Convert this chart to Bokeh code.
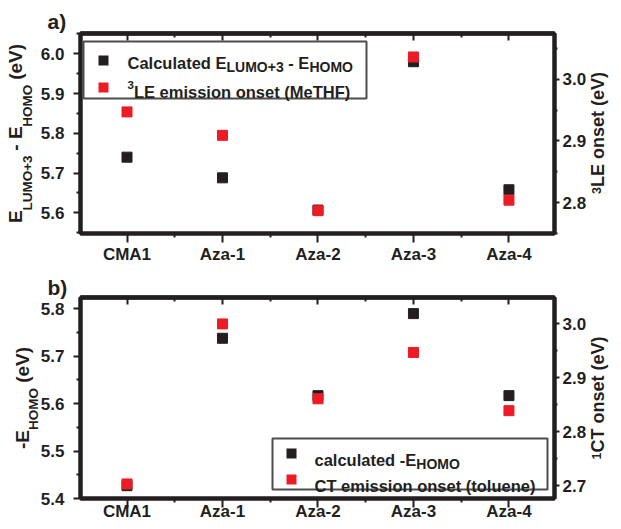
import math
from bokeh.plotting import figure
from bokeh.models import (Range1d, LinearAxis, FixedTicker, PrintfTickFormatter,
                          Label, BoxAnnotation)
from bokeh.layouts import column
from bokeh.embed import file_html
from bokeh.resources import INLINE

# ---------------- data ----------------
categories = ["CMA1", "Aza-1", "Aza-2", "Aza-3", "Aza-4"]
gap_lumo3_homo = [5.740, 5.688, 5.607, 5.980, 5.658]    # panel a, left axis (eV)
le3_onset_methf = [2.947, 2.909, 2.787, 3.036, 2.804]   # panel a, right axis (eV)
minus_e_homo = [5.427, 5.738, 5.617, 5.790, 5.617]      # panel b, left axis (eV)
ct_onset_toluene = [2.703, 3.000, 2.861, 2.947, 2.839]  # panel b, right axis (eV)

a_left_ticks = [5.6, 5.7, 5.8, 5.9, 6.0]
a_right_ticks = [2.8, 2.9, 3.0]
b_left_ticks = [5.4, 5.5, 5.6, 5.7, 5.8]
b_right_ticks = [2.7, 2.8, 2.9, 3.0]

# ---------------- style ----------------
INK = "#231f20"
RED = "#ed1c24"
LIB = "Liberation Sans"
W = 621
BL, BR = 80, 63
FW = W - BL - BR

LIB_W = {' ': 278, '(': 333, ')': 333, '+': 584, '-': 333, '1': 556, '3': 556,
         'C': 722, 'E': 667, 'F': 611, 'H': 722, 'L': 611, 'M': 833, 'O': 778,
         'T': 611, 'U': 722, 'V': 667, 'a': 556, 'c': 556, 'd': 611, 'e': 556,
         'i': 278, 'l': 278, 'm': 889, 'n': 611, 'o': 611, 's': 556, 't': 333,
         'u': 611}


def tw(s, size):
    return sum(LIB_W.get(c, 600) for c in s) * size / 1000.0


def txt(p, x, y, s, size):
    lead = len(s) - len(s.lstrip(' '))
    x += tw(s[:lead], size)
    p.add_layout(Label(x=x, y=y, x_units="canvas", y_units="canvas", text=s.strip(' '),
                       text_font=LIB, text_font_size=f"{size}px",
                       text_font_style="bold", text_color=INK,
                       text_align="left", text_baseline="alphabetic"))


def run_h(p, x, y, parts):
    for s, size, dy in parts:
        txt(p, x, y + dy, s, size)
        x += tw(s, size)


def box(p, left, top, right, bottom, fill, line=None, lw=0):
    p.add_layout(BoxAnnotation(left=left, right=right, top=top, bottom=bottom,
                               left_units="canvas", right_units="canvas",
                               top_units="canvas", bottom_units="canvas",
                               fill_color=fill, fill_alpha=1.0,
                               line_color=line, line_width=lw, line_alpha=1.0))


def style_axis(ax, t_in, t_out, m_in, m_out, size="17px"):
    ax.axis_line_width = 4
    ax.axis_line_color = INK
    ax.major_tick_line_width = 2
    ax.minor_tick_line_width = 2
    ax.major_tick_line_color = INK
    ax.minor_tick_line_color = INK
    ax.major_tick_in = t_in
    ax.major_tick_out = t_out
    ax.minor_tick_in = m_in
    ax.minor_tick_out = m_out
    ax.major_label_text_font = LIB
    ax.major_label_text_font_style = "bold"
    ax.major_label_text_font_size = size
    ax.major_label_text_color = INK


def compose(parts, center, anchor):
    """parts read bottom-to-top; tick positions (px from frame bottom) per kind.
    anchor 'center' -> piece centre, 'start' -> piece start."""
    total = sum(tw(s, size) for s, size, _ in parts)
    pos = center - total / 2.0
    out = {}
    for s, size, kind in parts:
        lead = len(s) - len(s.lstrip(' '))
        core = s.strip(' ')
        start = pos + tw(s[:lead], size)
        c = start + tw(core, size) / 2.0 if anchor == "center" else start
        ticks, texts = out.setdefault(kind, ([], []))
        ticks.append(round(c, 2))
        texts.append(core)
        pos += tw(s, size)
    return out


def title_axis(p, side, ticks, texts, size, standoff, orient):
    ax = LinearAxis(y_range_name="ttl", ticker=FixedTicker(ticks=ticks, minor_ticks=[]))
    ax.major_label_overrides = dict(zip(ticks, texts))
    ax.axis_line_color = None
    ax.major_tick_line_color = None
    ax.minor_tick_line_color = None
    ax.major_tick_in = 0
    ax.major_tick_out = 0
    ax.minor_tick_in = 0
    ax.minor_tick_out = 0
    ax.major_label_standoff = standoff
    ax.major_label_orientation = orient
    ax.major_label_text_font = LIB
    ax.major_label_text_font_style = "bold"
    ax.major_label_text_font_size = f"{size}px"
    ax.major_label_text_color = INK
    p.add_layout(ax, side)


def make_panel(height, top, bottom, yl, yr, lt, rt, black, red, panel_label, title_std,
               bottom_std, left_parts, left_sub_std, left_main_std, right_parts):
    xs = list(range(len(categories)))
    fh = height - top - bottom
    p = figure(width=W, height=height, output_backend="svg", toolbar_location=None,
               x_range=Range1d(-0.487, len(categories) - 0.523), y_range=Range1d(*yl),
               min_border_left=BL, min_border_right=BR,
               min_border_top=top, min_border_bottom=bottom,
               background_fill_color="white", border_fill_color="white")
    p.extra_y_ranges = {"r": Range1d(*yr), "ttl": Range1d(0, fh)}
    p.xgrid.visible = False
    p.ygrid.visible = False
    p.outline_line_color = INK
    p.outline_line_width = 4

    # panel label
    p.title.text = panel_label
    p.title.align = "left"
    p.title.offset = -33
    p.title.standoff = title_std
    p.title.text_font = LIB
    p.title.text_font_size = "21px"
    p.title.text_font_style = "bold"
    p.title.text_color = INK

    # bottom category axis
    xb = p.xaxis[0]
    xb.ticker = FixedTicker(ticks=xs, minor_ticks=[i + 0.5 for i in xs[:-1]])
    xb.major_label_overrides = {i: c for i, c in zip(xs, categories)}
    style_axis(xb, 0, 9, 0, 4)
    xb.major_label_standoff = bottom_std

    # top mirror ticks (no labels): one axis for majors, one for minors
    for tks, ln in ((xs, 7), ([i + 0.5 for i in xs[:-1]], 4)):
        xa = LinearAxis(ticker=FixedTicker(ticks=[], minor_ticks=tks))
        style_axis(xa, 0, 0, ln, 0)
        xa.major_label_standoff = 0
        p.add_layout(xa, "above")

    # left value axis
    yla = p.yaxis[0]
    yla.ticker = FixedTicker(ticks=lt, minor_ticks=[round(t - 0.05, 3) for t in lt] + [round(lt[-1] + 0.05, 3)])
    yla.formatter = PrintfTickFormatter(format="%.1f")
    style_axis(yla, 0, 7, 0, 4)
    yla.major_label_standoff = 9

    # right value axis
    yra = LinearAxis(y_range_name="r",
                     ticker=FixedTicker(ticks=rt, minor_ticks=[round(t - 0.05, 3) for t in rt] + [round(rt[-1] + 0.05, 3)]),
                     formatter=PrintfTickFormatter(format="%.1f"))
    style_axis(yra, 0, 5, 0, 3)
    yra.major_label_standoff = 3
    p.add_layout(yra, "right")

    # axis titles built from text pieces (sub/superscripts)
    lp = compose(left_parts, fh / 2.0, "center")
    title_axis(p, "left", lp["sub"][0], lp["sub"][1], 13.5, left_sub_std, "parallel")
    title_axis(p, "left", lp["main"][0], lp["main"][1], 19, left_main_std, "parallel")
    rp = compose(right_parts, fh / 2.0, "start")
    title_axis(p, "right", rp["main"][0], rp["main"][1], 18, 9, math.pi / 2)
    title_axis(p, "right", rp["sup"][0], rp["sup"][1], 12.5, -25, math.pi / 2)

    p.scatter(xs, black, marker="square", size=10, color=INK)
    p.scatter(xs, red, marker="square", size=10, color=RED, y_range_name="r")
    return p


# ---------------- panel a ----------------
HA, TA, BA = 266, 33, 31
pa = make_panel(HA, TA, BA, (5.548, 6.051), (2.750, 3.074), a_left_ticks, a_right_ticks,
                gap_lumo3_homo, le3_onset_methf, "a)", 2, 2,
                [("E", 19, "main"), ("LUMO+3", 13.5, "sub"), (" - E", 19, "main"),
                 ("HOMO", 13.5, "sub"), (" (eV)", 19, "main")], 2, -9,
                [("3", 12.5, "sup"), ("LE onset (eV)", 18, "main")])
fa_top = TA
fa_l, fa_r = BL, BL + FW
lx, ly = fa_l + 3, fa_top + 8
box(pa, lx, ly, lx + 283, ly + 57, "white", "#4d4d4d", 2)
box(pa, lx + 15, ly + 14, lx + 25, ly + 24, INK)
box(pa, lx + 15, ly + 41, lx + 25, ly + 51, RED)
run_h(pa, lx + 44, ly + 21, [("Calculated E", 16.5, 0), ("LUMO+3", 14, 4), (" - E", 16.5, 0),
                             ("HOMO", 14, 4)])
run_h(pa, lx + 44, ly + 50, [("3", 11.5, -7), ("LE emission onset (MeTHF)", 16.5, 0)])

# ---------------- panel b ----------------
HB, TB, BB = 263, 31, 31
pb = make_panel(HB, TB, BB, (5.40, 5.824), (2.676, 3.049), b_left_ticks, b_right_ticks,
                minus_e_homo, ct_onset_toluene, "b)", -3, -6,
                [("-E", 19, "main"), ("HOMO", 13.5, "sub"), (" (eV)", 19, "main")], -4, -10,
                [("1", 12.5, "sup"), ("CT onset (eV)", 18, "main")])
fb_bot = HB - BB
rx, by = fa_r - 11, fb_bot - 9
lx, ly = rx - 275, by - 51
box(pb, lx, ly, rx, by, "white", "#4d4d4d", 2)
box(pb, lx + 14, ly + 10, lx + 24, ly + 20, INK)
box(pb, lx + 14, ly + 36, lx + 24, ly + 46, RED)
run_h(pb, lx + 42, ly + 21, [("calculated -E", 16.5, 0), ("HOMO", 14, 4)])
run_h(pb, lx + 42, ly + 47, [("CT emission onset (toluene)", 16.5, 0)])

layout = column(pa, pb, spacing=0)
open("out.html", "w").write(file_html(layout, INLINE))
